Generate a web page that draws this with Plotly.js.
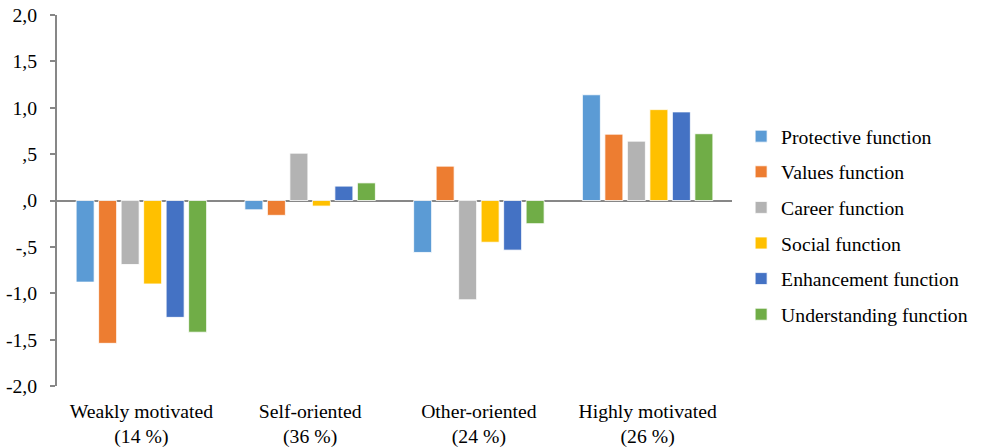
<!DOCTYPE html>
<html>
<head>
<meta charset="utf-8">
<script src="https://cdn.plot.ly/plotly-3.0.1.min.js"></script>
<style>html,body{margin:0;padding:0;background:#fff;}#chart{width:984px;height:448px;}</style>
</head>
<body>
<div id="chart"></div>
<script>
const categories = ["Weakly motivated<br>(14 %)", "Self-oriented<br>(36 %)", "Other-oriented<br>(24 %)", "Highly motivated<br>(26 %)"];
const seriesNames = ["Protective function", "Values function", "Career function", "Social function", "Enhancement function", "Understanding function"];
const protective = [-0.88, -0.10, -0.56, 1.14];
const values = [-1.54, -0.16, 0.37, 0.715];
const career = [-0.69, 0.51, -1.07, 0.64];
const social = [-0.90, -0.06, -0.45, 0.98];
const enhancement = [-1.26, 0.155, -0.535, 0.955];
const understanding = [-1.42, 0.19, -0.25, 0.72];
const seriesColors = ["#5b9bd5", "#ed7d31", "#b3b3b3", "#ffc000", "#4472c4", "#70ad47"];
const yTickVals = [2, 1.5, 1, 0.5, 0, -0.5, -1, -1.5, -2];
const yTickText = ["2,0", "1,5", "1,0", ",5", ",0", "-,5", "-1,0", "-1,5", "-2,0"];

const allSeries = [protective, values, career, social, enhancement, understanding];
const traces = allSeries.map((vals, i) => ({
  type: "bar",
  x: categories,
  y: vals,
  name: seriesNames[i],
  legendgroup: "g" + i,
  marker: { color: seriesColors[i], line: { color: "rgba(255,255,255,0.8)", width: 1 } },
  hoverinfo: "y+name"
}));

const font = { family: "Times New Roman, Liberation Serif, DejaVu Serif, serif", size: 19.7, color: "#000" };

const layout = {
  width: 984, height: 448,
  margin: { l: 57, r: 251, t: 15, b: 62 },
  paper_bgcolor: "#fff", plot_bgcolor: "#fff",
  font: font,
  barmode: "group",
  bargap: 0.2,
  bargroupgap: 0.2,
  showlegend: true,
  legend: {
    x: 1.012, xanchor: "left", y: 0.433, yanchor: "middle",
    font: font, tracegroupgap: 7, traceorder: "grouped",
    bgcolor: "rgba(0,0,0,0)", borderwidth: 0
  },
  xaxis: {
    type: "category",
    showline: false, showgrid: false, zeroline: false,
    ticks: "", tickfont: font, automargin: false,
    ticklabelstandoff: 11
  },
  yaxis: {
    range: [-2, 2],
    tickvals: yTickVals, ticktext: yTickText,
    showline: true, linecolor: "#878787", linewidth: 2,
    ticks: "outside", ticklen: 5, tickwidth: 2, tickcolor: "#878787",
    showgrid: false,
    zeroline: true, zerolinecolor: "#878787", zerolinewidth: 2,
    tickfont: font, automargin: false,
    ticklabelstandoff: 9
  }
};

Plotly.newPlot("chart", traces, layout, { displayModeBar: false, staticPlot: true });
</script>
</body>
</html>
